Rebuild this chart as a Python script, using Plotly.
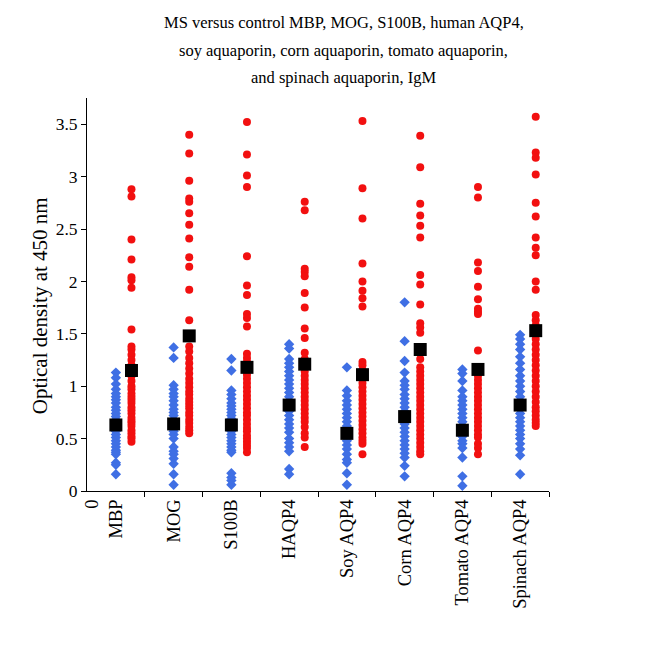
import plotly.graph_objects as go

categories = ["MBP", "MOG", "S100B", "HAQP4", "Soy AQP4", "Corn AQP4", "Tomato AQP4", "Spinach AQP4"]

control_values = [
    [1.13, 1.08, 1.02, 0.97, 0.93, 0.90, 0.87, 0.84, 0.80, 0.77, 0.74, 0.71, 0.68, 0.65, 0.62, 0.60, 0.57, 0.54, 0.51, 0.48, 0.45, 0.42, 0.39, 0.37, 0.35, 0.27, 0.25, 0.16],
    [1.37, 1.27, 1.01, 0.97, 0.93, 0.90, 0.86, 0.82, 0.78, 0.75, 0.72, 0.68, 0.64, 0.60, 0.57, 0.54, 0.50, 0.42, 0.38, 0.35, 0.31, 0.26, 0.16, 0.06],
    [1.26, 1.15, 0.96, 0.92, 0.88, 0.84, 0.81, 0.78, 0.75, 0.72, 0.69, 0.66, 0.63, 0.60, 0.57, 0.54, 0.51, 0.48, 0.45, 0.42, 0.39, 0.37, 0.17, 0.13, 0.10, 0.06],
    [1.40, 1.36, 1.26, 1.22, 1.18, 1.14, 1.10, 1.06, 1.02, 0.98, 0.94, 0.90, 0.86, 0.82, 0.79, 0.76, 0.72, 0.68, 0.64, 0.60, 0.56, 0.50, 0.46, 0.42, 0.38, 0.21, 0.16],
    [1.18, 0.96, 0.91, 0.86, 0.82, 0.78, 0.74, 0.70, 0.66, 0.62, 0.58, 0.55, 0.52, 0.48, 0.44, 0.40, 0.35, 0.30, 0.27, 0.17, 0.06],
    [1.80, 1.43, 1.24, 1.13, 1.05, 1.01, 0.97, 0.92, 0.88, 0.84, 0.80, 0.76, 0.72, 0.68, 0.64, 0.60, 0.56, 0.52, 0.48, 0.44, 0.40, 0.36, 0.32, 0.24, 0.14],
    [1.16, 1.12, 1.05, 0.96, 0.90, 0.86, 0.82, 0.78, 0.74, 0.70, 0.66, 0.62, 0.58, 0.55, 0.52, 0.48, 0.45, 0.41, 0.32, 0.14, 0.05],
    [1.49, 1.45, 1.40, 1.35, 1.28, 1.22, 1.16, 1.10, 1.05, 1.00, 0.95, 0.90, 0.86, 0.82, 0.78, 0.74, 0.70, 0.66, 0.62, 0.58, 0.54, 0.50, 0.45, 0.40, 0.34, 0.16],
]

ms_values = [
    [2.88, 2.81, 2.40, 2.21, 2.04, 2.01, 1.94, 1.54, 1.38, 1.35, 1.30, 1.25, 1.20, 1.15, 1.10, 1.05, 1.00, 0.97, 0.93, 0.90, 0.87, 0.84, 0.80, 0.77, 0.74, 0.70, 0.67, 0.65, 0.62, 0.58, 0.55, 0.52, 0.50, 0.47],
    [3.40, 3.22, 2.96, 2.79, 2.76, 2.65, 2.54, 2.41, 2.23, 2.14, 1.92, 1.63, 1.38, 1.33, 1.27, 1.22, 1.17, 1.12, 1.07, 1.03, 0.99, 0.95, 0.92, 0.88, 0.85, 0.82, 0.79, 0.75, 0.72, 0.68, 0.65, 0.61, 0.58, 0.55],
    [3.52, 3.21, 3.01, 2.90, 2.24, 1.96, 1.87, 1.69, 1.65, 1.57, 1.31, 1.27, 1.23, 1.19, 1.15, 1.11, 1.07, 1.03, 0.99, 0.95, 0.91, 0.87, 0.83, 0.79, 0.75, 0.72, 0.68, 0.64, 0.60, 0.57, 0.53, 0.50, 0.47, 0.44, 0.41, 0.37],
    [2.76, 2.68, 2.12, 2.09, 2.05, 1.89, 1.75, 1.55, 1.46, 1.32, 1.26, 1.22, 1.18, 1.14, 1.10, 1.06, 1.02, 0.98, 0.94, 0.90, 0.86, 0.82, 0.78, 0.74, 0.70, 0.66, 0.61, 0.55, 0.51, 0.42],
    [3.53, 2.89, 2.60, 2.17, 2.00, 1.91, 1.84, 1.76, 1.23, 1.20, 1.15, 1.11, 1.07, 1.03, 0.99, 0.95, 0.91, 0.87, 0.83, 0.79, 0.75, 0.71, 0.67, 0.63, 0.59, 0.55, 0.51, 0.48, 0.45, 0.35],
    [3.39, 3.09, 2.74, 2.63, 2.53, 2.42, 2.06, 1.97, 1.78, 1.60, 1.56, 1.51, 1.26, 1.18, 1.14, 1.10, 1.06, 1.02, 0.98, 0.94, 0.90, 0.86, 0.82, 0.78, 0.74, 0.70, 0.66, 0.62, 0.58, 0.54, 0.50, 0.46, 0.42, 0.38, 0.35],
    [2.90, 2.80, 2.18, 2.10, 1.95, 1.83, 1.74, 1.71, 1.69, 1.34, 1.14, 1.10, 1.06, 1.02, 0.98, 0.94, 0.90, 0.86, 0.82, 0.78, 0.74, 0.70, 0.66, 0.62, 0.58, 0.54, 0.51, 0.45, 0.41, 0.35],
    [3.57, 3.23, 3.18, 3.02, 2.75, 2.62, 2.42, 2.32, 2.25, 2.00, 1.92, 1.68, 1.63, 1.58, 1.45, 1.40, 1.35, 1.30, 1.25, 1.20, 1.15, 1.10, 1.05, 1.00, 0.95, 0.90, 0.85, 0.80, 0.76, 0.72, 0.68, 0.65, 0.62],
]

control_means = [0.63, 0.64, 0.63, 0.82, 0.55, 0.71, 0.58, 0.82]
ms_means = [1.15, 1.48, 1.18, 1.21, 1.11, 1.35, 1.16, 1.53]

y_ticks = [0, 0.5, 1, 1.5, 2, 2.5, 3, 3.5]

title_lines = [
    "MS versus control MBP, MOG, S100B, human AQP4,",
    "soy aquaporin, corn aquaporin, tomato aquaporin,",
    "and spinach aquaporin, IgM",
]
y_title = "Optical density at 450 nm"

BLUE = "#3F6FE4"
RED = "#F21010"
MS_OFFSET = 0.27
FONT = "Liberation Serif"

fig = go.Figure()

cx, cy, mx, my = [], [], [], []
for i, (cv, mv) in enumerate(zip(control_values, ms_values)):
    pos = i + 1
    cx += [pos] * len(cv)
    cy += cv
    mx += [pos + MS_OFFSET] * len(mv)
    my += mv

fig.add_trace(go.Scatter(x=cx, y=cy, mode="markers", name="Control",
                         marker=dict(symbol="diamond", size=8, color=BLUE, line=dict(width=0))))
fig.add_trace(go.Scatter(x=mx, y=my, mode="markers", name="MS",
                         marker=dict(symbol="circle", size=8, color=RED, line=dict(width=0))))

pos_all = list(range(1, len(categories) + 1))
fig.add_trace(go.Scatter(x=pos_all, y=control_means, mode="markers", name="Control mean",
                         marker=dict(symbol="square", size=13, color="black", line=dict(width=0))))
fig.add_trace(go.Scatter(x=[p + MS_OFFSET for p in pos_all], y=ms_means, mode="markers", name="MS mean",
                         marker=dict(symbol="square", size=13, color="black", line=dict(width=0))))

# title as three centered lines (wider line spacing than plotly's default)
title_y = [1.191, 1.122, 1.053]
annotations = [
    dict(text=t, xref="paper", yref="paper", x=0.556, y=yy, xanchor="center", yanchor="middle",
         showarrow=False, font=dict(family=FONT, size=16.5, color="black"))
    for t, yy in zip(title_lines, title_y)
]
annotations.append(
    dict(text=y_title, xref="paper", yref="paper", x=0, y=0.47, xanchor="center", yanchor="middle",
         xshift=-47, textangle=-90, showarrow=False, font=dict(family=FONT, size=21, color="black"))
)

fig.update_layout(
    width=648, height=645,
    paper_bgcolor="white", plot_bgcolor="white",
    showlegend=False,
    margin=dict(l=79, r=107, t=90, b=162),
    font=dict(family=FONT, size=17, color="black"),
    annotations=annotations,
    xaxis=dict(
        range=[0.5, 8.5],
        tickmode="array",
        tickvals=[0.58] + pos_all,
        ticktext=["0"] + categories,
        tickangle=-90,
        ticks="",
        showline=True, linecolor="black", linewidth=1,
        showgrid=False, zeroline=False,
        tickfont=dict(family=FONT, size=18.5, color="black"),
        minor=dict(tickmode="array", tickvals=[p + 0.5 for p in pos_all],
                   ticks="outside", ticklen=5, tickcolor="black", tickwidth=1, showgrid=False),
    ),
    yaxis=dict(
        range=[0, 3.75],
        tickmode="array", tickvals=y_ticks,
        ticks="outside", ticklen=5, tickcolor="black",
        showline=True, linecolor="black", linewidth=1,
        showgrid=False, zeroline=False,
        tickfont=dict(family=FONT, size=17.5, color="black"),
    ),
)

fig.write_html("out.html")
